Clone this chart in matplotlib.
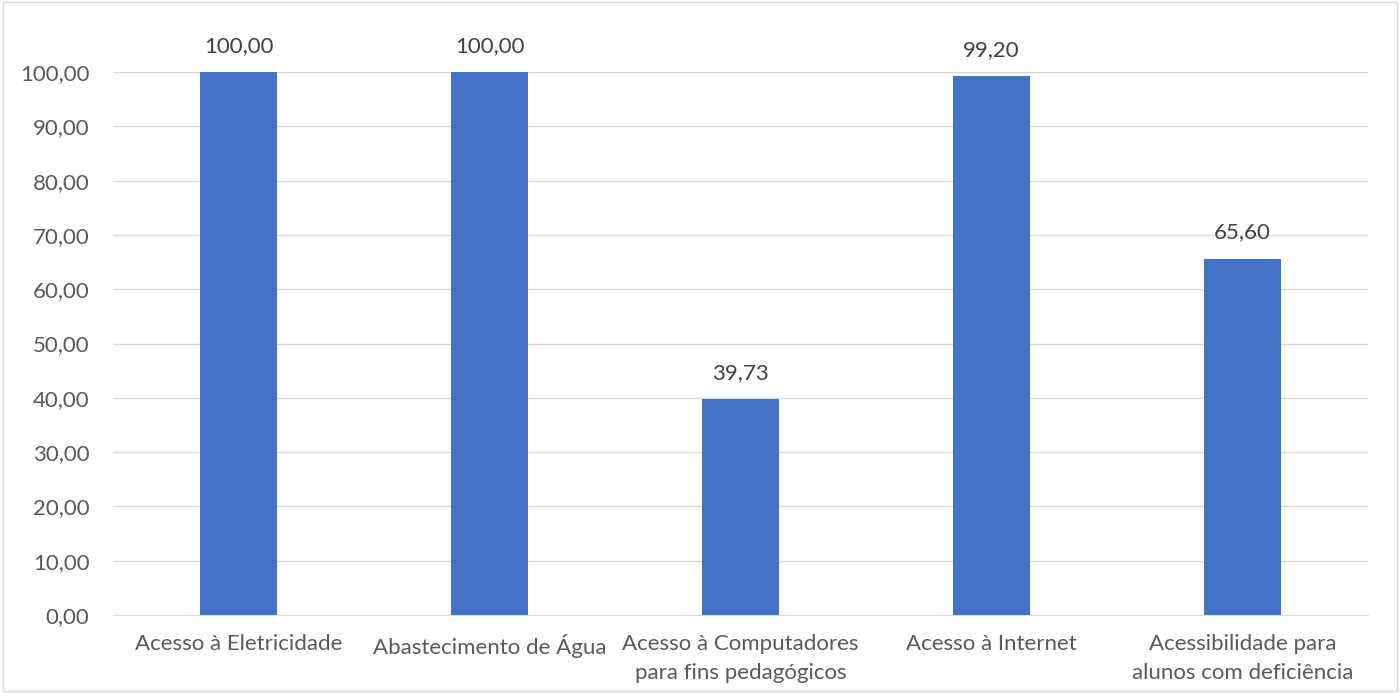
import matplotlib
matplotlib.use('Agg')
import matplotlib.pyplot as plt
from matplotlib.patches import Rectangle

# === Data ===
categories = ['Acesso à Eletricidade', 'Abastecimento de Água',
              'Acesso à Computadores\npara fins pedagógicos',
              'Acesso à Internet', 'Acessibilidade para\nalunos com deficiência']
values = [100.00, 100.00, 39.73, 99.20, 65.60]
y_ticks = list(range(0, 101, 10))

BAR_COLOR = '#4472C4'
TEXT_COLOR = '#595959'
GRID_COLOR = '#D9D9D9'

plt.rcParams['font.family'] = ['Lato', 'DejaVu Sans']


def fmt(v):
    return f'{v:.2f}'.replace('.', ',')


fig = plt.figure(figsize=(14, 6.93), dpi=100)
ax = fig.add_axes([113 / 1400, 1 - 615 / 693, (1368 - 113) / 1400, (615 - 72) / 693])

x = range(len(categories))
bars = ax.bar(x, values, width=0.31, color=BAR_COLOR, zorder=3)

for rect, v in zip(bars, values):
    ax.text(rect.get_x() + rect.get_width() / 2, v + 3.0, fmt(v),
            ha='center', va='bottom', fontsize=16, color='#404040', clip_on=False)

ax.set_xlim(-0.5, len(categories) - 0.5)
ax.set_ylim(0, 100)
ax.set_yticks(y_ticks)
ax.set_yticklabels([fmt(t) for t in y_ticks], fontsize=16, color=TEXT_COLOR)
ax.set_xticks(list(x))
ax.set_xticklabels(categories, fontsize=16, color=TEXT_COLOR, linespacing=1.55)
ax.tick_params(axis='both', length=0)
ax.tick_params(axis='x', pad=14)
ax.tick_params(axis='y', pad=17)

ax.grid(axis='y', color=GRID_COLOR, linewidth=1, zorder=0)
for side in ['top', 'right', 'left']:
    ax.spines[side].set_visible(False)
ax.spines['bottom'].set_color(GRID_COLOR)
ax.spines['bottom'].set_zorder(4)

# chart border
fig.patches.append(Rectangle((0.002, 0.003), 0.996, 0.994, transform=fig.transFigure,
                             fill=False, edgecolor=GRID_COLOR, linewidth=1))

fig.savefig('out.png', dpi=100)
plt.close(fig)
